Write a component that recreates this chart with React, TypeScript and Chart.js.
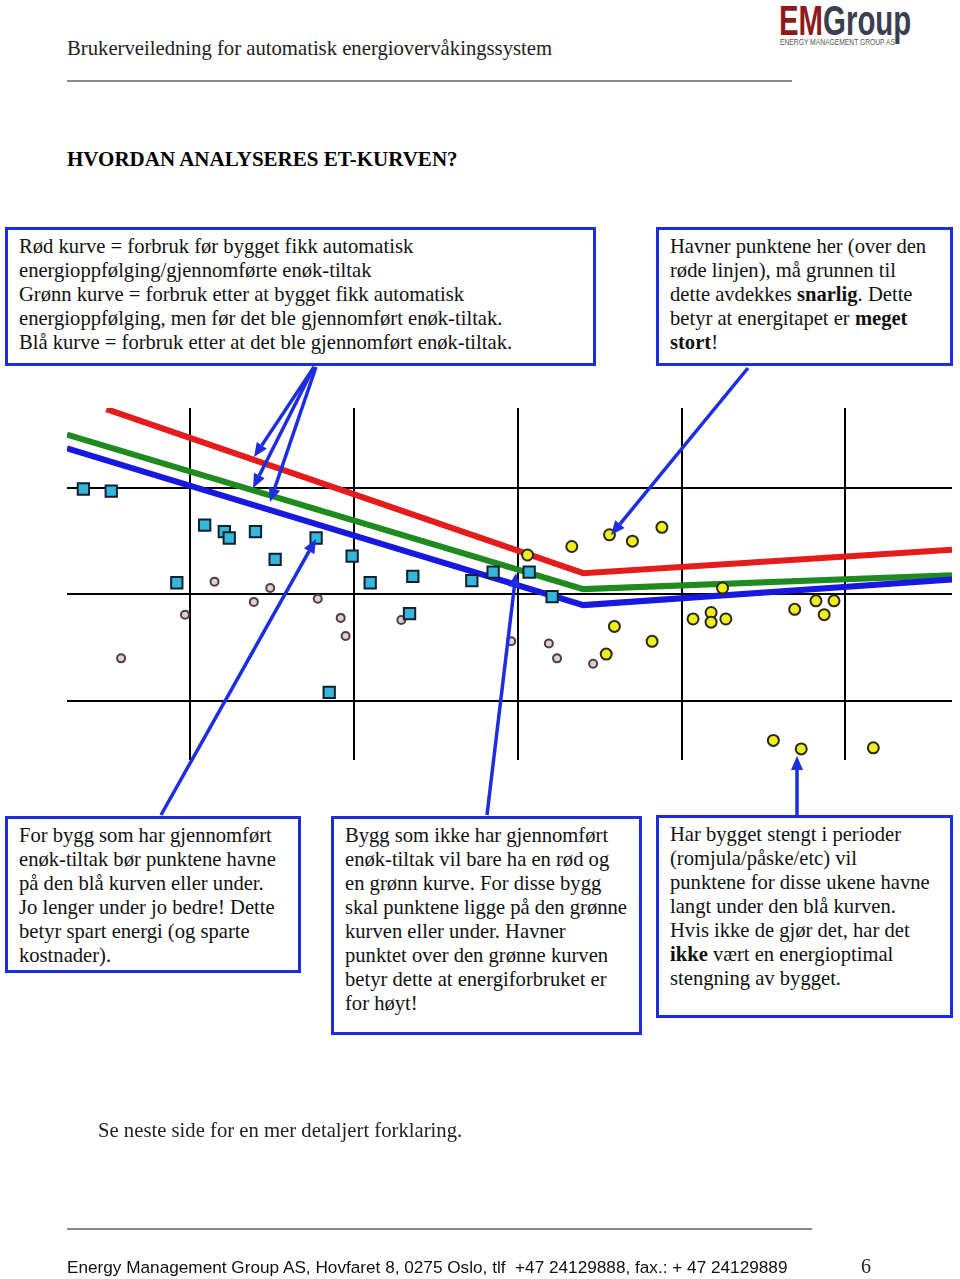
import React, { useEffect, useRef } from "react";
import { Chart, registerables } from "chart.js";

Chart.register(...registerables);

// ---- data (chart units: vertical grid lines at x = 1..5, horizontal at y = 1..3) ----
const X_GRID = [1, 2, 3, 4, 5];
const Y_GRID = [1, 2, 3];

const redCurveX = [0.49, 3.4, 5.65];
const redCurveY = [3.74, 2.2, 2.42];
const greenCurveX = [0.25, 3.4, 5.65];
const greenCurveY = [3.5, 2.05, 2.18];
const blueCurveX = [0.25, 3.4, 5.65];
const blueCurveY = [3.37, 1.9, 2.14];

const squaresX = [0.35, 0.52, 0.92, 1.09, 1.21, 1.24, 1.4, 1.52, 1.77, 1.99, 2.1, 2.36, 2.34, 2.72, 2.85, 3.07, 3.21, 1.85];
const squaresY = [2.99, 2.97, 2.11, 2.65, 2.59, 2.53, 2.59, 2.33, 2.53, 2.36, 2.11, 2.17, 1.82, 2.13, 2.21, 2.21, 1.98, 1.08];

const grayX = [1.15, 1.49, 1.39, 1.78, 0.97, 1.92, 1.95, 2.29, 0.58, 2.96, 3.19, 3.24, 3.46];
const grayY = [2.12, 2.06, 1.93, 1.96, 1.81, 1.78, 1.61, 1.76, 1.4, 1.56, 1.54, 1.4, 1.35];

const yellowX = [3.06, 3.33, 3.56, 3.7, 3.88, 4.25, 3.59, 3.82, 3.54, 4.07, 4.18, 4.18, 4.27, 4.69, 4.82, 4.93, 4.87, 4.56, 4.73, 5.17];
const yellowY = [2.37, 2.45, 2.56, 2.5, 2.63, 2.06, 1.7, 1.56, 1.44, 1.77, 1.83, 1.74, 1.77, 1.86, 1.94, 1.94, 1.81, 0.63, 0.55, 0.56];

const pts = (xs: number[], ys: number[]) => xs.map((x, i) => ({ x, y: ys[i] }));

const BLUE = "#1c2ee0";
const SERIF = "'Liberation Serif', 'Times New Roman', serif";
const SANS = "'Liberation Sans', Arial, sans-serif";
const BOX_FONT = 20.6;

function ChartCanvas() {
  const ref = useRef<HTMLCanvasElement | null>(null);
  useEffect(() => {
    if (!ref.current) return;
    const chart = new Chart(ref.current, {
      type: "scatter",
      data: {
        datasets: [
          {
            label: "Gule punkter",
            data: pts(yellowX, yellowY),
            pointStyle: "circle",
            pointRadius: 5.5,
            backgroundColor: "#eeee22",
            borderColor: "#2a2a10",
            borderWidth: 2,
          },
          {
            label: "Blå punkter",
            data: pts(squaresX, squaresY),
            pointStyle: "rect",
            pointRadius: 8,
            backgroundColor: "#35b6da",
            borderColor: "#102030",
            borderWidth: 2,
          },
          {
            label: "Grå punkter",
            data: pts(grayX, grayY),
            pointStyle: "circle",
            pointRadius: 4,
            backgroundColor: "#e2cfd8",
            borderColor: "#4a3e44",
            borderWidth: 2,
          },
          {
            label: "Blå kurve",
            data: pts(blueCurveX, blueCurveY),
            showLine: true,
            pointRadius: 0,
            borderColor: "#1818e0",
            borderWidth: 6,
            tension: 0,
          },
          {
            label: "Grønn kurve",
            data: pts(greenCurveX, greenCurveY),
            showLine: true,
            pointRadius: 0,
            borderColor: "#1f8a1f",
            borderWidth: 6,
            tension: 0,
          },
          {
            label: "Rød kurve",
            data: pts(redCurveX, redCurveY),
            showLine: true,
            pointRadius: 0,
            borderColor: "#e41c1c",
            borderWidth: 6,
            tension: 0,
          },
        ],
      },
      options: {
        animation: false,
        responsive: true,
        maintainAspectRatio: false,
        layout: { padding: 0, autoPadding: false },
        plugins: { legend: { display: false }, tooltip: { enabled: false } },
        scales: {
          x: {
            type: "linear",
            min: 0.25,
            max: 5.65,
            afterBuildTicks: (axis: any) => {
              axis.ticks = X_GRID.map((v) => ({ value: v }));
            },
            ticks: { display: false },
            grid: { color: "#000", lineWidth: 2, drawTicks: false },
            border: { display: false },
          },
          y: {
            type: "linear",
            min: 0.446,
            max: 3.75,
            afterBuildTicks: (axis: any) => {
              axis.ticks = Y_GRID.map((v) => ({ value: v }));
            },
            ticks: { display: false },
            grid: { color: "#000", lineWidth: 2, drawTicks: false },
            border: { display: false },
          },
        },
      },
    });
    return () => chart.destroy();
  }, []);
  return (
    <div style={{ position: "absolute", left: 67, top: 408, width: 885, height: 352 }}>
      <canvas ref={ref} />
    </div>
  );
}

function Box(props: {
  left: number; top: number; width: number; height: number;
  textTop: number; children: React.ReactNode;
}) {
  return (
    <>
      <div
        style={{
          position: "absolute", left: props.left, top: props.top,
          width: props.width, height: props.height, boxSizing: "border-box",
          border: `3px solid ${BLUE}`, background: "#fff",
        }}
      />
      <div
        style={{
          position: "absolute", left: props.left + 14, top: props.textTop,
          fontFamily: SERIF, fontSize: BOX_FONT, lineHeight: "24px", color: "#111",
          whiteSpace: "pre",
        }}
      >
        {props.children}
      </div>
    </>
  );
}

function Arrow({ x1, y1, x2, y2 }: { x1: number; y1: number; x2: number; y2: number }) {
  const dx = x2 - x1, dy = y2 - y1;
  const len = Math.hypot(dx, dy);
  const ux = dx / len, uy = dy / len;
  const hl = 14, hw = 6;
  const bx = x2 - ux * hl, by = y2 - uy * hl;
  const p1 = `${x2},${y2}`;
  const p2 = `${bx - uy * hw},${by + ux * hw}`;
  const p3 = `${bx + uy * hw},${by - ux * hw}`;
  return (
    <g>
      <line x1={x1} y1={y1} x2={bx} y2={by} stroke={BLUE} strokeWidth={3.5} />
      <polygon points={`${p1} ${p2} ${p3}`} fill={BLUE} />
    </g>
  );
}

export default function App() {
  return (
    <div style={{ position: "absolute", left: 0, top: 0, width: 960, height: 1279, background: "#fff", overflow: "hidden" }}>
      {/* header */}
      <div style={{ position: "absolute", left: 67, top: 36, fontFamily: SERIF, fontSize: 20.7, lineHeight: "24px", color: "#222", whiteSpace: "pre" }}>
        Brukerveiledning for automatisk energiovervåkingssystem
      </div>
      <div style={{ position: "absolute", left: 779, top: -3, whiteSpace: "pre", transformOrigin: "left top", transform: "scaleX(0.7)", fontFamily: SANS, fontWeight: 700, fontSize: 42, lineHeight: "48px" }}>
        <span style={{ color: "#8e1b1b" }}>EM</span>
        <span style={{ color: "#3a3e50" }}>Group</span>
      </div>
      <div style={{ position: "absolute", left: 780, top: 37, whiteSpace: "pre", transformOrigin: "left top", transform: "scaleX(0.79)", fontFamily: SANS, fontSize: 8.5, lineHeight: "10px", color: "#555" }}>
        ENERGY MANAGEMENT GROUP AS
      </div>
      <div style={{ position: "absolute", left: 67, top: 80, width: 725, height: 2, background: "#8a8a8a" }} />

      {/* title */}
      <div style={{ position: "absolute", left: 67, top: 147, fontFamily: SERIF, fontWeight: 700, fontSize: 21, lineHeight: "24px", color: "#000", whiteSpace: "pre" }}>
        HVORDAN ANALYSERES ET-KURVEN?
      </div>

      {/* chart */}
      <ChartCanvas />

      {/* text boxes */}
      <Box left={5} top={227} width={591} height={139} textTop={234}>
        {"Rød kurve = forbruk før bygget fikk automatisk\nenergioppfølging/gjennomførte enøk-tiltak\nGrønn kurve = forbruk etter at bygget fikk automatisk\nenergioppfølging, men før det ble gjennomført enøk-tiltak.\nBlå kurve = forbruk etter at det ble gjennomført enøk-tiltak."}
      </Box>
      <Box left={656} top={227} width={297} height={139} textTop={234}>
        <>
          {"Havner punktene her (over den\nrøde linjen), må grunnen til\ndette avdekkes "}
          <b>snarlig</b>
          {". Dette\nbetyr at energitapet er "}
          <b>meget</b>
          {"\n"}
          <b>stort</b>
          {"!"}
        </>
      </Box>
      <Box left={5} top={816} width={296} height={157} textTop={823}>
        {"For bygg som har gjennomført\nenøk-tiltak bør punktene havne\npå den blå kurven eller under.\nJo lenger under jo bedre! Dette\nbetyr spart energi (og sparte\nkostnader)."}
      </Box>
      <Box left={331} top={816} width={311} height={219} textTop={823}>
        {"Bygg som ikke har gjennomført\nenøk-tiltak vil bare ha en rød og\nen grønn kurve. For disse bygg\nskal punktene ligge på den grønne\nkurven eller under. Havner\npunktet over den grønne kurven\nbetyr dette at energiforbruket er\nfor høyt!"}
      </Box>
      <Box left={656} top={815} width={297} height={203} textTop={822}>
        <>
          {"Har bygget stengt i perioder\n(romjula/påske/etc) vil\npunktene for disse ukene havne\nlangt under den blå kurven.\nHvis ikke de gjør det, har det\n"}
          <b>ikke</b>
          {" vært en energioptimal\nstengning av bygget."}
        </>
      </Box>

      {/* arrows */}
      <svg width={960} height={1279} style={{ position: "absolute", left: 0, top: 0, pointerEvents: "none" }}>
        <Arrow x1={314} y1={367} x2={254} y2={457} />
        <Arrow x1={314} y1={367} x2={253} y2={488} />
        <Arrow x1={316} y1={367} x2={270} y2={502} />
        <Arrow x1={748} y1={368} x2={611} y2={535} />
        <Arrow x1={161} y1={815} x2={316} y2={539} />
        <Arrow x1={487} y1={815} x2={516} y2={573} />
        <Arrow x1={797} y1={815} x2={797} y2={756} />
      </svg>

      {/* bottom note */}
      <div style={{ position: "absolute", left: 98, top: 1118, fontFamily: SERIF, fontSize: 20.7, lineHeight: "24px", color: "#222", whiteSpace: "pre" }}>
        Se neste side for en mer detaljert forklaring.
      </div>

      {/* footer */}
      <div style={{ position: "absolute", left: 67, top: 1228, width: 745, height: 2, background: "#8a8a8a" }} />
      <div style={{ position: "absolute", left: 67, top: 1257, fontFamily: SANS, fontSize: 17.2, lineHeight: "20px", color: "#111", whiteSpace: "pre" }}>
        Energy Management Group AS, Hovfaret 8, 0275 Oslo, tlf  +47 24129888, fax.: + 47 24129889
      </div>
      <div style={{ position: "absolute", left: 861, top: 1254, fontFamily: SERIF, fontSize: 20, lineHeight: "24px", color: "#222" }}>
        6
      </div>
    </div>
  );
}
